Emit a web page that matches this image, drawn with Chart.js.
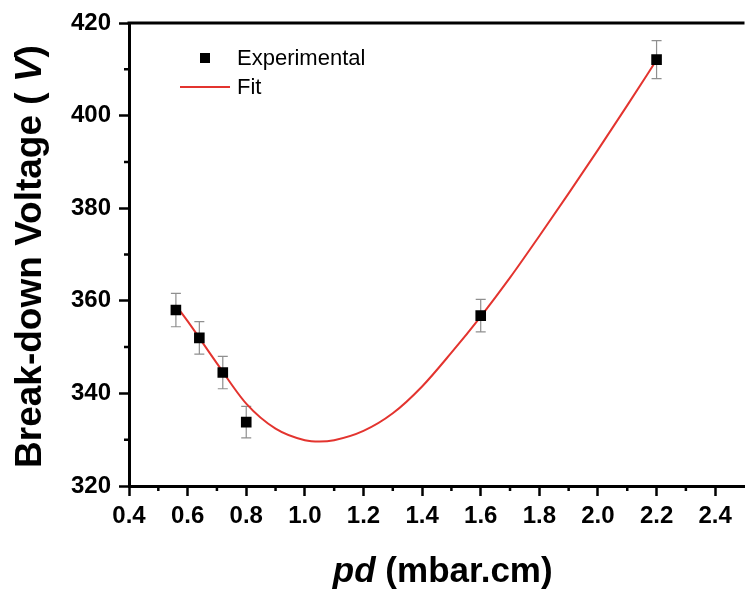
<!DOCTYPE html>
<html>
<head>
<meta charset="utf-8">
<script src="https://cdn.jsdelivr.net/npm/chart.js@4.4.1/dist/chart.umd.min.js"></script>
<style>
  html, body { margin: 0; padding: 0; background: #fff; overflow: hidden; }
  #wrap { width: 748px; height: 590px; overflow: hidden; }
  canvas { display: block; }
</style>
</head>
<body>
<div id="wrap"><canvas id="chart" width="752" height="590"></canvas></div>
<script>
// Dados medidos (pd em mbar.cm, tensao em V)
const pdExp = [0.56, 0.64, 0.72, 0.80, 1.60, 2.20];
const vExp  = [358, 352, 344.5, 333.8, 356.8, 412.1];
const vErr  = [3.6, 3.5, 3.5, 3.4, 3.5, 4.1];

// Curva de ajuste
const pdFit = [0.56, 0.6, 0.7, 0.8, 0.9, 1.0, 1.05, 1.1, 1.2, 1.3, 1.4, 1.5, 1.6, 1.7, 1.8, 1.9, 2.0, 2.1, 2.2];
const vFit  = [359.0, 355.6, 346.5, 337.8, 332.4, 329.9, 329.6, 329.9, 331.9, 335.7, 341.5, 348.8, 356.6, 365.0, 374.0, 383.2, 392.6, 402.2, 412.0];

// Ticks
const xTicks = [0.4, 0.6, 0.8, 1.0, 1.2, 1.4, 1.6, 1.8, 2.0, 2.2, 2.4];
const xMinor = [0.5, 0.7, 0.9, 1.1, 1.3, 1.5, 1.7, 1.9, 2.1, 2.3];
const yTicks = [320, 340, 360, 380, 400, 420];
const yMinor = [330, 350, 370, 390, 410];

const FONT = "'Liberation Sans', Arial, Helvetica, sans-serif";
const RED = '#e3342f';

// barras de erro
const errorBars = {
  id: 'errorBars',
  beforeDatasetsDraw(chart) {
    const { ctx, scales: { x, y } } = chart;
    ctx.save();
    ctx.strokeStyle = '#8f8f8f';
    ctx.lineWidth = 1.2;
    pdExp.forEach((pd, i) => {
      const px = x.getPixelForValue(pd);
      const top = y.getPixelForValue(vExp[i] + vErr[i]);
      const bot = y.getPixelForValue(vExp[i] - vErr[i]);
      ctx.beginPath();
      ctx.moveTo(px, top); ctx.lineTo(px, bot);
      ctx.moveTo(px - 5, top); ctx.lineTo(px + 5, top);
      ctx.moveTo(px - 5, bot); ctx.lineTo(px + 5, bot);
      ctx.stroke();
    });
    ctx.restore();
  }
};

// moldura superior, ticks menores, titulos e legenda
const decorations = {
  id: 'decorations',
  afterDraw(chart) {
    const { ctx, chartArea: a, scales: { x, y } } = chart;
    ctx.save();
    ctx.strokeStyle = '#000';
    ctx.lineWidth = 3;
    ctx.beginPath();
    ctx.moveTo(a.left - 1.5, a.top);
    ctx.lineTo(a.right, a.top);
    ctx.stroke();

    ctx.lineWidth = 2.5;
    ctx.beginPath();
    xMinor.forEach(v => {
      const px = x.getPixelForValue(v);
      ctx.moveTo(px, a.bottom); ctx.lineTo(px, a.bottom + 5);
    });
    yMinor.forEach(v => {
      const py = y.getPixelForValue(v);
      ctx.moveTo(a.left, py); ctx.lineTo(a.left - 5, py);
    });
    ctx.stroke();

    const drawParts = (parts, cx, cy) => {
      let total = 0;
      parts.forEach(p => { ctx.font = p[1]; total += ctx.measureText(p[0]).width; });
      let cur = cx - total / 2;
      ctx.textBaseline = 'middle';
      ctx.textAlign = 'left';
      ctx.fillStyle = '#000';
      parts.forEach(p => {
        ctx.font = p[1];
        ctx.fillText(p[0], cur, cy);
        cur += ctx.measureText(p[0]).width;
      });
    };

    // titulo eixo x
    drawParts([
      ['pd', 'italic bold 35px ' + FONT],
      [' (mbar.cm)', 'bold 35px ' + FONT]
    ], (a.left + a.right) / 2 + 6, 572);

    // titulo eixo y
    ctx.save();
    ctx.translate(31, (a.top + a.bottom) / 2 + 2);
    ctx.rotate(-Math.PI / 2);
    drawParts([
      ['Break-down Voltage ( ', 'bold 37px ' + FONT],
      ['V', 'italic bold 37px ' + FONT],
      [')', 'bold 37px ' + FONT]
    ], 0, 0);
    ctx.restore();

    // legenda
    const ds = chart.data.datasets;
    ctx.fillStyle = '#000';
    ctx.fillRect(a.left + 71, a.top + 30, 10, 10);
    ctx.strokeStyle = ds[1].borderColor;
    ctx.lineWidth = 2;
    ctx.beginPath();
    ctx.moveTo(a.left + 51, a.top + 64);
    ctx.lineTo(a.left + 101, a.top + 64);
    ctx.stroke();
    ctx.font = '22px ' + FONT;
    ctx.textAlign = 'left';
    ctx.textBaseline = 'middle';
    ctx.fillText(ds[0].label, a.left + 108, a.top + 36);
    ctx.fillText(ds[1].label, a.left + 108, a.top + 65);
    ctx.restore();
  }
};

new Chart(document.getElementById('chart'), {
  type: 'scatter',
  data: {
    datasets: [{
      label: 'Experimental',
      data: pdExp.map((pd, i) => ({ x: pd, y: vExp[i] })),
      pointStyle: 'rect',
      pointRadius: 7.5,
      backgroundColor: '#000',
      borderColor: '#000',
      borderWidth: 0,
      order: 0
    }, {
      label: 'Fit',
      data: pdFit.map((pd, i) => ({ x: pd, y: vFit[i] })),
      showLine: true,
      pointRadius: 0,
      borderColor: RED,
      borderWidth: 2,
      cubicInterpolationMode: 'monotone',
      order: 1
    }]
  },
  options: {
    responsive: false,
    animation: false,
    layout: { padding: { top: 23, right: 2, left: 0, bottom: 0 } },
    plugins: { legend: { display: false }, tooltip: { enabled: false } },
    scales: {
      x: {
        type: 'linear',
        min: 0.4,
        max: 2.5,
        afterBuildTicks: s => { s.ticks = xTicks.map(v => ({ value: v })); },
        afterFit: s => { s.height = 104; },
        ticks: {
          callback: v => v.toFixed(1),
          font: { family: FONT, size: 24, weight: 'bold' },
          color: '#000',
          padding: 6,
          maxRotation: 0,
          autoSkip: false
        },
        grid: { drawOnChartArea: false, tickLength: 10, tickWidth: 2.5, tickColor: '#000' },
        border: { display: true, color: '#000', width: 3 }
      },
      y: {
        min: 320,
        max: 420,
        afterBuildTicks: s => { s.ticks = yTicks.map(v => ({ value: v })); },
        afterFit: s => { s.width = 129; },
        ticks: {
          font: { family: FONT, size: 24, weight: 'bold' },
          color: '#000',
          padding: 8
        },
        grid: { drawOnChartArea: false, tickLength: 10, tickWidth: 2.5, tickColor: '#000' },
        border: { display: true, color: '#000', width: 3 }
      }
    }
  },
  plugins: [errorBars, decorations]
});
</script>
</body>
</html>
